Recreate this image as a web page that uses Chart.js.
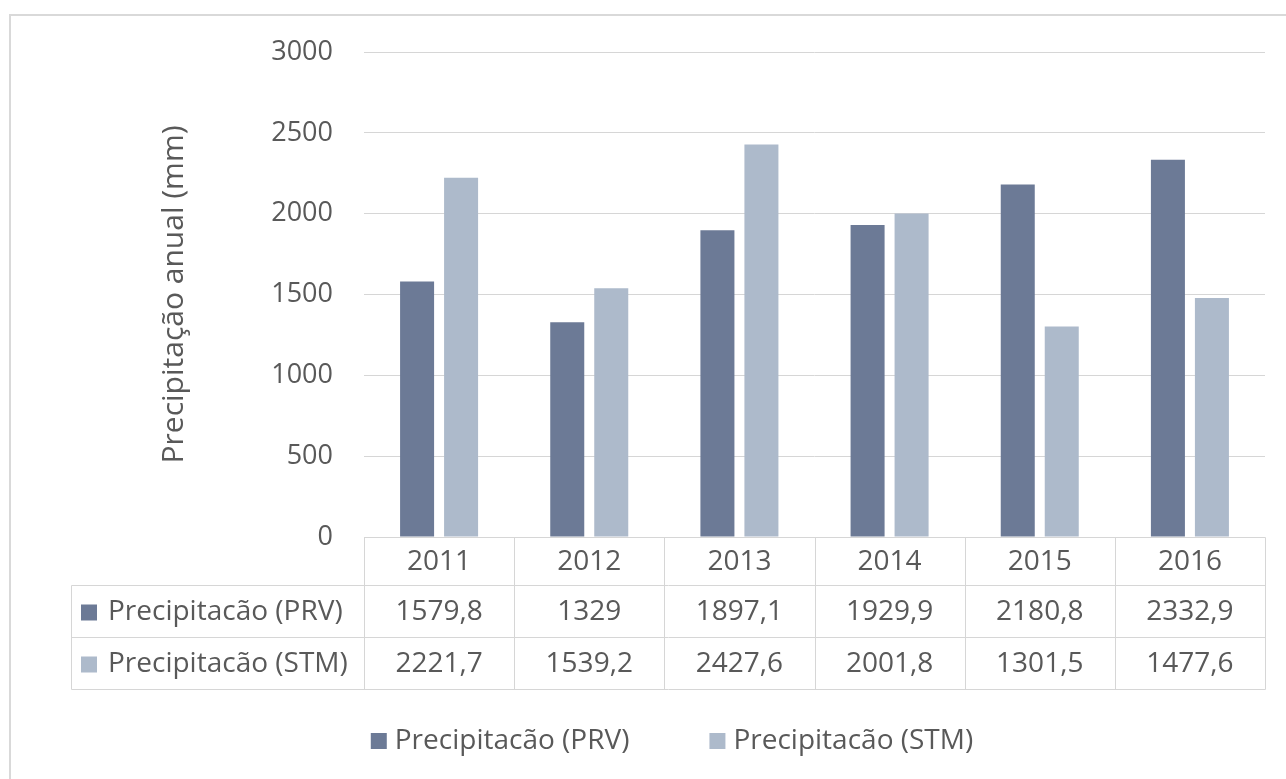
<!DOCTYPE html>
<html lang="pt">
<head>
<meta charset="utf-8">
<title>Precipitação anual (mm)</title>
<script src="https://cdn.jsdelivr.net/npm/chart.js@4/dist/chart.umd.min.js"></script>
<style>
  html, body { margin: 0; padding: 0; background: #ffffff; }
  #wrap { width: 1286px; height: 779px; position: relative; }
</style>
</head>
<body>
<div id="wrap"><canvas id="chart" width="1286" height="779"></canvas></div>
<script>
// Anos e precipitação anual (mm) em cada estação
const anos = ['2011', '2012', '2013', '2014', '2015', '2016'];
const precipPRV = [1579.8, 1329, 1897.1, 1929.9, 2180.8, 2332.9];
const precipSTM = [2221.7, 1539.2, 2427.6, 2001.8, 1301.5, 1477.6];
const nomesSeries = ['Precipitacão (PRV)', 'Precipitacão (STM)'];
const yTicks = [0, 500, 1000, 1500, 2000, 2500, 3000];

const FONT = "'Open Sans', 'DejaVu Sans', sans-serif";
const TEXT = '#595959';
const LINE = '#d6d6d6';
const COR_PRV = '#6c7a96';
const COR_STM = '#adbacb';

const fmt = v => String(v).replace('.', ',');

// Moldura, tabela de dados sob o eixo X e legenda inferior
const tabelaPlugin = {
  id: 'tabelaDados',
  beforeDraw(chart) {
    const ctx = chart.ctx;
    ctx.save();
    ctx.fillStyle = '#ffffff';
    ctx.fillRect(0, 0, chart.width, chart.height);
    ctx.strokeStyle = '#d9d9d9';
    ctx.lineWidth = 2;
    ctx.beginPath();
    ctx.moveTo(10, chart.height);
    ctx.lineTo(10, 15);
    ctx.lineTo(chart.width, 15);
    ctx.stroke();
    ctx.restore();
  },
  afterDraw(chart) {
    const ctx = chart.ctx;
    const x = chart.scales.x;
    const area = chart.chartArea;
    const n = anos.length;
    const w = (area.right - area.left) / n;
    const bounds = [];
    for (let i = 0; i <= n; i++) bounds.push(Math.round(area.left + i * w) + 0.5);
    const y0 = Math.round(area.bottom) + 0.5;
    const y1 = y0 + 48;
    const y2 = y1 + 52;
    const y3 = y2 + 52;
    const tableLeft = 71.5;

    ctx.save();
    ctx.strokeStyle = LINE;
    ctx.lineWidth = 1;
    ctx.beginPath();
    ctx.moveTo(bounds[0], y0); ctx.lineTo(bounds[n], y0);
    [y1, y2, y3].forEach(yy => { ctx.moveTo(tableLeft, yy); ctx.lineTo(bounds[n], yy); });
    bounds.forEach(bx => { ctx.moveTo(bx, y0); ctx.lineTo(bx, y3); });
    ctx.moveTo(tableLeft, y1); ctx.lineTo(tableLeft, y3);
    ctx.stroke();

    ctx.fillStyle = TEXT;
    ctx.font = '28px ' + FONT;
    ctx.textAlign = 'center';
    ctx.textBaseline = 'middle';
    anos.forEach((a, i) => {
      ctx.fillText(a, x.getPixelForValue(i), (y0 + y1) / 2 + 1);
    });

    const rows = [y1, y2];
    chart.data.datasets.forEach((ds, r) => {
      const cy = (rows[r] + rows[r] + 52) / 2 + 1;
      ctx.fillStyle = ds.backgroundColor;
      ctx.fillRect(81, cy - 8, 16, 16);
      ctx.fillStyle = TEXT;
      ctx.textAlign = 'left';
      ctx.fillText(ds.label, 108, cy);
      ctx.textAlign = 'center';
      ds.data.forEach((v, i) => ctx.fillText(fmt(v), x.getPixelForValue(i), cy));
    });

    // legenda
    const ly = 741;
    const key = 16, keyGap = 8, itemGap = 80;
    const widths = chart.data.datasets.map(ds => ctx.measureText(ds.label).width);
    const total = widths.reduce((s, tw) => s + key + keyGap + tw, 0) + itemGap;
    let cx = 672 - total / 2;
    chart.data.datasets.forEach((ds, i) => {
      ctx.fillStyle = ds.backgroundColor;
      ctx.fillRect(cx, ly - 8, key, key);
      ctx.fillStyle = TEXT;
      ctx.textAlign = 'left';
      ctx.fillText(ds.label, cx + key + keyGap, ly);
      cx += key + keyGap + widths[i] + itemGap;
    });
    ctx.restore();
  }
};

new Chart(document.getElementById('chart'), {
  type: 'bar',
  data: {
    labels: anos,
    datasets: [
      { label: nomesSeries[0], data: precipPRV, backgroundColor: COR_PRV,
        categoryPercentage: 0.586, barPercentage: 0.773 },
      { label: nomesSeries[1], data: precipSTM, backgroundColor: COR_STM,
        categoryPercentage: 0.586, barPercentage: 0.773 }
    ]
  },
  options: {
    responsive: false,
    animation: false,
    layout: { padding: { left: 156, right: 21, top: 52, bottom: 0 } },
    plugins: {
      legend: { display: false },
      tooltip: { enabled: false }
    },
    scales: {
      x: {
        grid: { display: false },
        border: { display: false },
        ticks: { display: false },
        afterFit(scale) { scale.height = 242; }
      },
      y: {
        min: 0,
        max: 3000,
        afterBuildTicks(scale) { scale.ticks = yTicks.map(v => ({ value: v })); },
        border: { display: false },
        grid: { color: LINE, lineWidth: 1, drawTicks: false },
        ticks: {
          padding: 31,
          color: TEXT,
          font: { family: FONT, size: 27 },
          callback: v => String(v)
        },
        title: {
          display: true,
          text: 'Precipitação anual (mm)',
          color: TEXT,
          padding: 0,
          font: { family: FONT, size: 30 }
        },
        afterFit(scale) { scale.width = 208; }
      }
    }
  },
  plugins: [tabelaPlugin]
});
</script>
</body>
</html>
